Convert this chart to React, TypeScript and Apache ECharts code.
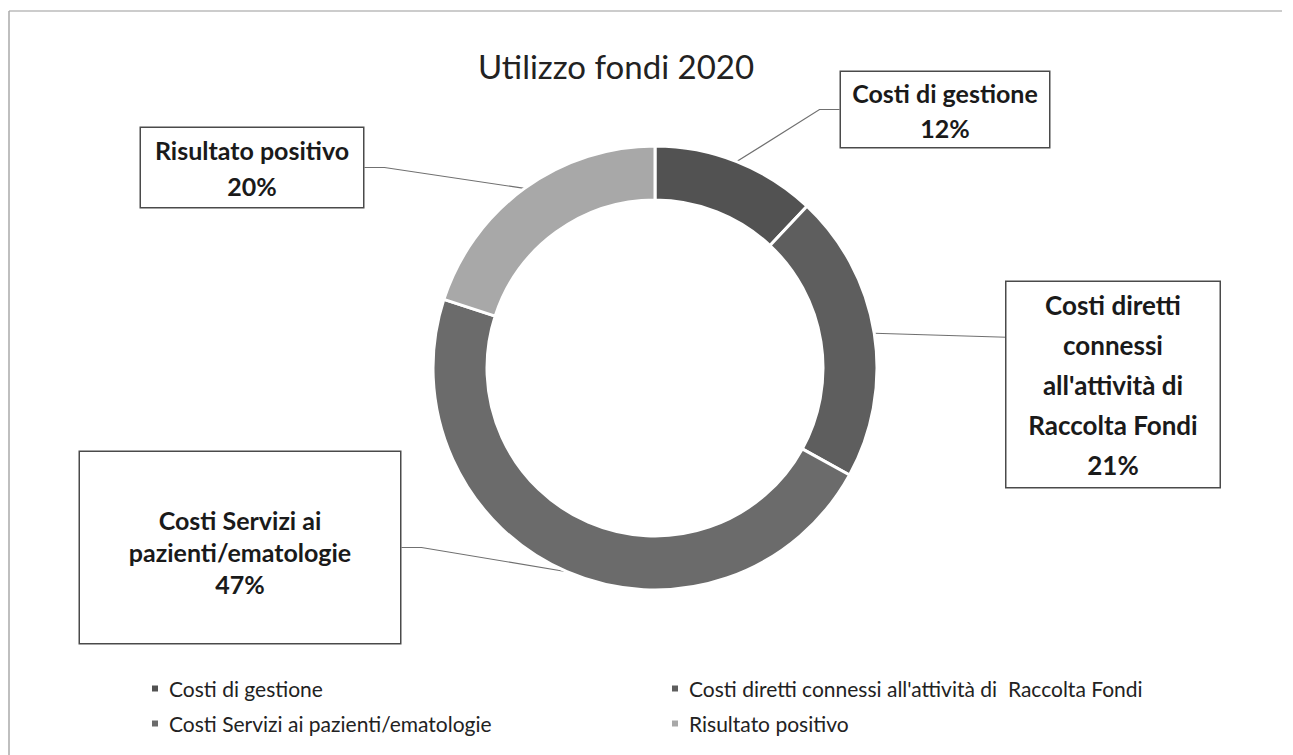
import React, { useEffect, useRef } from "react";
import * as echarts from "echarts";

const titleText = "Utilizzo fondi 2020";
const categories = [
  "Costi di gestione",
  "Costi diretti connessi all'attività di  Raccolta Fondi",
  "Costi Servizi ai pazienti/ematologie",
  "Risultato positivo",
];
const values = [12, 21, 47, 20];
const labelTexts = [
  "Costi di gestione",
  "Costi diretti\nconnessi\nall'attività di\nRaccolta Fondi",
  "Costi Servizi ai\npazienti/ematologie",
  "Risultato positivo",
];
const colors = ["#525252", "#5e5e5e", "#6b6b6b", "#a8a8a8"];

// label box styling / placement (layout only)
const labelStyles = [
  { fontSize: 25, lineHeight: 35, width: 190, padding: [3, 9, 2, 9], cx: 945, top: 72, straight: false },
  { fontSize: 26, lineHeight: 40, width: 193, padding: [3, 10, 2, 10], cx: 1113, top: 282, straight: true },
  { fontSize: 25, lineHeight: 32, width: 300, padding: [52, 10, 43, 10], cx: 240, top: 452, straight: false },
  { fontSize: 25, lineHeight: 36, width: 204, padding: [4, 9, 3, 9], cx: 252, top: 128, straight: false },
];

const FONT = "Lato, 'Open Sans', sans-serif";

export default function App() {
  const ref = useRef<HTMLDivElement>(null);
  useEffect(() => {
    if (!ref.current) return;
    const chart = echarts.init(ref.current, undefined, { renderer: "svg" });
    const data = categories.map((name, i) => ({
      name,
      value: values[i],
      itemStyle: { color: colors[i] },
      label: {
        fontSize: labelStyles[i].fontSize,
        lineHeight: labelStyles[i].lineHeight,
        width: labelStyles[i].width,
        padding: labelStyles[i].padding,
      },
    }));
    const legendText = { fontFamily: FONT, fontSize: 21, color: "#222", padding: [0, 0, 0, 5] };
    chart.setOption({
      animation: false,
      backgroundColor: "#ffffff",
      title: {
        text: titleText,
        left: 611,
        top: 44,
        textAlign: "center",
        textStyle: { fontFamily: FONT, fontSize: 33, fontWeight: "normal", color: "#222" },
      },
      legend: [
        {
          data: [categories[0], categories[2]],
          orient: "vertical",
          left: 145,
          top: 673,
          itemWidth: 8,
          itemHeight: 8,
          itemGap: 14,
          icon: "rect",
          textStyle: legendText,
        },
        {
          data: [categories[1], categories[3]],
          orient: "vertical",
          left: 665,
          top: 673,
          itemWidth: 8,
          itemHeight: 8,
          itemGap: 14,
          icon: "rect",
          textStyle: legendText,
        },
      ],
      graphic: [
        { type: "line", shape: { x1: 9, y1: 11, x2: 1282, y2: 11 }, style: { stroke: "#bbbbbb", lineWidth: 1.5 } },
        { type: "line", shape: { x1: 9, y1: 11, x2: 9, y2: 755 }, style: { stroke: "#aaaaaa", lineWidth: 1.5 } },
      ],
      series: [
        {
          type: "pie",
          center: [655, 368],
          radius: [168, 222],
          startAngle: 90,
          clockwise: true,
          itemStyle: { borderColor: "#ffffff", borderWidth: 3 },
          label: {
            show: true,
            position: "outside",
            fontFamily: FONT,
            fontWeight: "bold",
            color: "#1a1a1a",
            align: "center",
            backgroundColor: "#ffffff",
            borderColor: "#4a4a4a",
            borderWidth: 1.5,
            formatter: (p: any) => labelTexts[p.dataIndex] + "\n" + Math.round(p.percent) + "%",
          },
          labelLine: { show: true, length: 20, length2: 20, lineStyle: { color: "#707070", width: 1.2 } },
          labelLayout: (p: any) => {
            const s = labelStyles[p.dataIndex];
            const res: any = { x: s.cx, y: s.top, align: "center", verticalAlign: "top" };
            if (s.straight && p.labelLinePoints && p.labelLinePoints[0]) {
              const a = p.labelLinePoints[0];
              const boxLeft = s.cx - (s.width + s.padding[1] + s.padding[3]) / 2;
              res.labelLinePoints = [
                [a[0], a[1]],
                [(a[0] + boxLeft) / 2, a[1] + 2],
                [boxLeft, a[1] + 4],
              ];
            }
            return res;
          },
          data,
        },
      ],
    });
    return () => chart.dispose();
  }, []);
  return (
    <div
      ref={ref}
      style={{ position: "absolute", left: 0, top: 0, width: 1293, height: 755 }}
    />
  );
}
